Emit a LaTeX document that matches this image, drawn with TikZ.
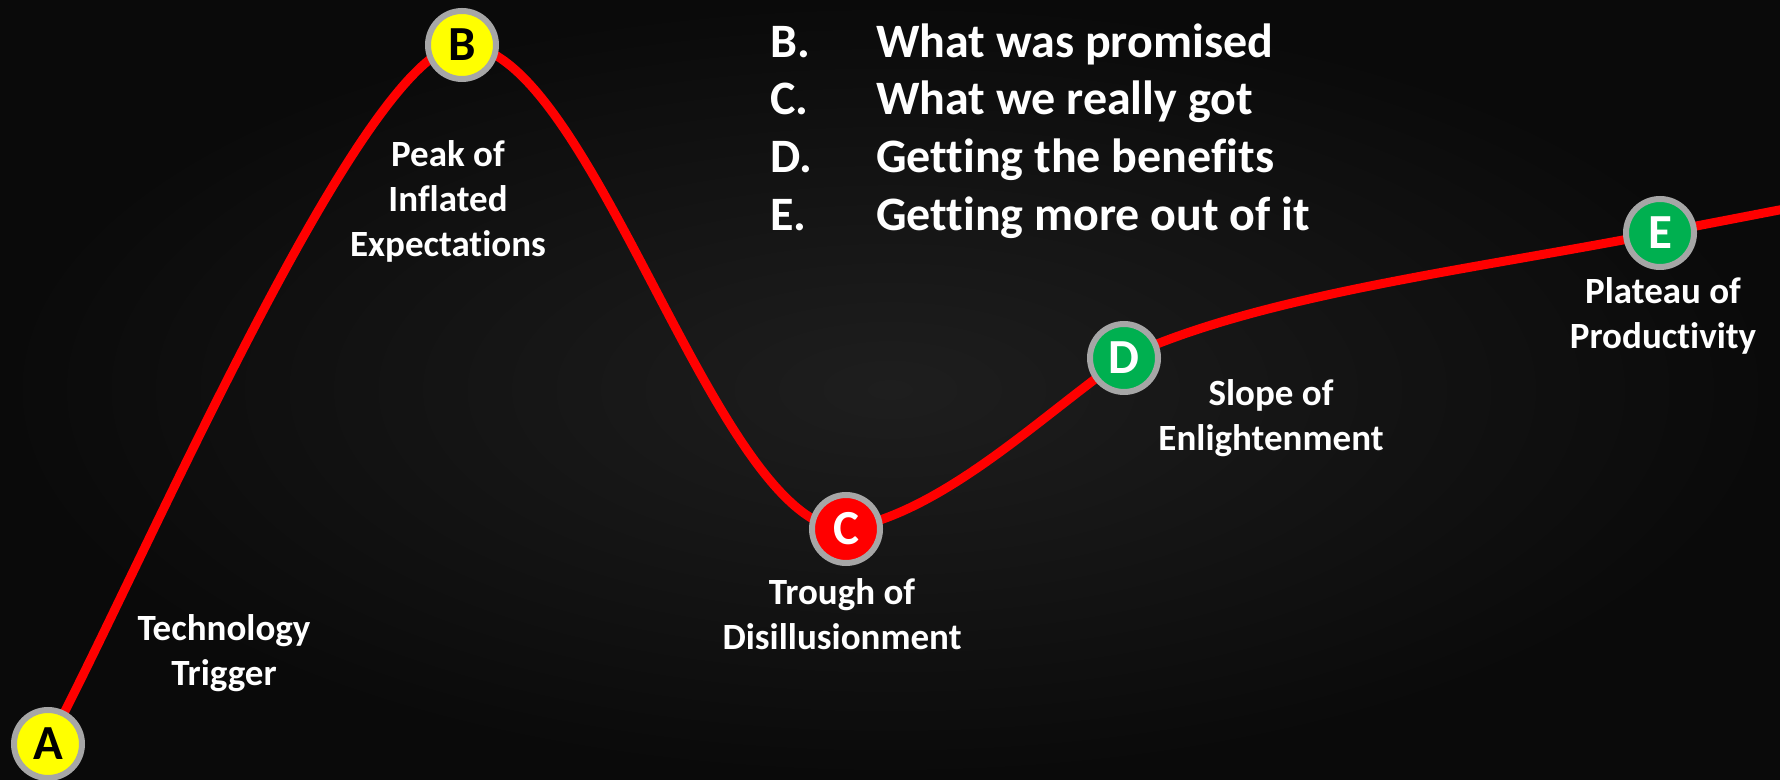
\documentclass[tikz,border=0pt]{standalone}
\usepackage{fontspec}
\setmainfont{Carlito}[Ligatures=NoCommon]
\definecolor{bgin}{RGB}{30,30,30}
\definecolor{bgout}{RGB}{10,10,10}
\definecolor{ringgray}{RGB}{166,166,166}
\definecolor{hypered}{RGB}{255,0,0}
\definecolor{hypeyellow}{RGB}{255,255,0}
\definecolor{hypegreen}{RGB}{0,176,80}
\begin{document}
\begin{tikzpicture}[x=1pt,y=1pt,
  phase/.style={circle,draw=ringgray,line width=6pt,minimum size=68pt,inner sep=0pt,
    font=\fontsize{49}{49}\selectfont\bfseries},
  lbl/.style={text=white,align=center,inner sep=0pt,font=\fontsize{37}{45}\selectfont\bfseries},
  listtxt/.style={text=white,anchor=base west,inner sep=0pt,font=\fontsize{48}{58}\selectfont\bfseries},
  curve/.style={draw=hypered,line width=9pt}]
\shade[inner color=bgin,outer color=bgout] (0,0) rectangle (1780,779);
\useasboundingbox (0,0) rectangle (1780,779);
% key points of the curve
\coordinate (pA) at (48,35);
\coordinate (pB) at (462,734);
\coordinate (pC) at (846,250);
\coordinate (pD) at (1124,421);
\coordinate (pE) at (1660,546);
\coordinate (pEnd) at (1800,573);
\draw[curve] (pA) .. controls (142,212) and (365,734) .. (pB)
  .. controls (592,734) and (716,250) .. (pC)
  .. controls (944,267) and (1042,364) .. (pD)
  .. controls (1260,484) and (1464,508) .. (pE)
  -- (pEnd);
% phase markers
\node[phase,fill=hypeyellow,text=black] (A) at (pA) {A};
\node[phase,fill=hypeyellow,text=black] (B) at (pB) {B};
\node[phase,fill=hypered,text=white] (C) at (pC) {C};
\node[phase,fill=hypegreen,text=white] (D) at (pD) {D};
\node[phase,fill=hypegreen,text=white] (E) at (pE) {E};
% phase labels
\node[lbl] (lA) at (224,126) {Technology\\Trigger};
\node[lbl] (lB) at (448,578) {Peak of\\Inflated\\Expectations};
\node[lbl] (lC) at (842,165) {Trough of\\Disillusionment};
\node[lbl] (lD) at (1271,361) {Slope of\\Enlightenment};
\node[lbl] (lE) at (1663,463) {Plateau of\\Productivity};
% legend list
\node[listtxt] (kB) at (770,721) {B.};
\node[listtxt] (tB) at (876,721) {What was promised};
\node[listtxt] (kC) at (770,664) {C.};
\node[listtxt] (tC) at (876,664) {What we really got};
\node[listtxt] (kD) at (770,606) {D.};
\node[listtxt] (tD) at (876,606) {Getting the benefits};
\node[listtxt] (kE) at (770,548) {E.};
\node[listtxt] (tE) at (876,548) {Getting more out of it};
\end{tikzpicture}
\end{document}
